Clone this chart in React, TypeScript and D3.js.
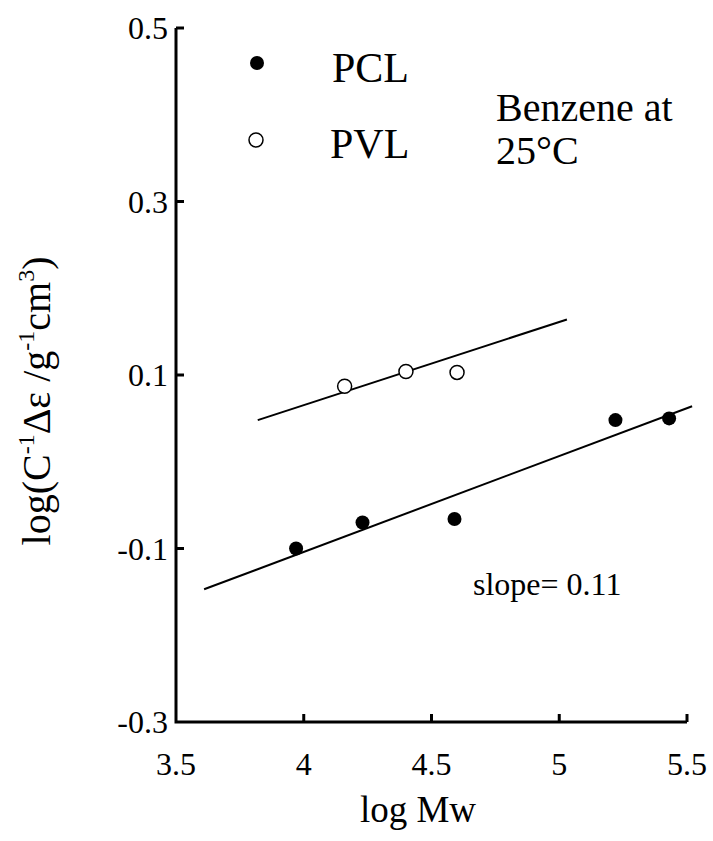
import React from "react";
import * as d3 from "d3";

const xTicks = [3.5, 4, 4.5, 5, 5.5];
const xTickLabels = ["3.5", "4", "4.5", "5", "5.5"];
const yTicks = [0.5, 0.3, 0.1, -0.1, -0.3];
const yTickLabels = ["0.5", "0.3", "0.1", "-0.1", "-0.3"];

const pclX = [3.97, 4.23, 4.59, 5.22, 5.43];
const pclY = [-0.1, -0.07, -0.066, 0.048, 0.05];
const pvlX = [4.16, 4.4, 4.6];
const pvlY = [0.087, 0.104, 0.103];

const pclFitX = [3.61, 5.52];
const pclFitY = [-0.147, 0.064];
const pvlFitX = [3.82, 5.03];
const pvlFitY = [0.048, 0.164];

const seriesNames = ["PCL", "PVL"];

const FONT = "'Liberation Serif', 'Times New Roman', serif";

export default function App() {
  const W = 713;
  const H = 841;
  const x = d3.scaleLinear().domain([3.5, 5.5]).range([176, 687]);
  const y = d3.scaleLinear().domain([-0.3, 0.5]).range([722, 28]);
  const line = d3
    .line<[number, number]>()
    .x((d) => x(d[0]))
    .y((d) => y(d[1]));
  const pclFit = line(pclFitX.map((v, i) => [v, pclFitY[i]]) as [number, number][]) || "";
  const pvlFit = line(pvlFitX.map((v, i) => [v, pvlFitY[i]]) as [number, number][]) || "";

  return (
    <svg
      width={W}
      height={H}
      style={{ position: "absolute", left: 0, top: 0, background: "#fff" }}
      fontFamily={FONT}
    >
      <rect width={W} height={H} fill="#fff" />
      {/* axes */}
      <path
        d={`M${x(3.5)},${y(0.5)} L${x(3.5)},${y(-0.3)} L${x(5.5)},${y(-0.3)}`}
        fill="none"
        stroke="#000"
        strokeWidth={3}
      />
      {xTicks.slice(1).map((t) => (
        <line key={"xt" + t} x1={x(t)} x2={x(t)} y1={y(-0.3)} y2={y(-0.3) - 8} stroke="#000" strokeWidth={3} />
      ))}
      {yTicks.slice(0, 4).map((t) => (
        <line key={"yt" + t} x1={x(3.5)} x2={x(3.5) + 8} y1={y(t)} y2={y(t)} stroke="#000" strokeWidth={3} />
      ))}
      {xTicks.map((t, i) => (
        <text key={"xl" + t} x={x(t)} y={775} textAnchor="middle" fontSize={32}>
          {xTickLabels[i]}
        </text>
      ))}
      {yTicks.map((t, i) => (
        <text key={"yl" + t} x={168} y={y(t) + 11} textAnchor="end" fontSize={32}>
          {yTickLabels[i]}
        </text>
      ))}
      <text x={418} y={822} textAnchor="middle" fontSize={37}>
        log Mw
      </text>
      <text transform="translate(50,401) rotate(-90)" textAnchor="middle" fontSize={40}>
        <tspan>log(C</tspan>
        <tspan fontSize={24} dy={-16}>-1</tspan>
        <tspan dy={16}>Δε /g</tspan>
        <tspan fontSize={24} dy={-16}>-1</tspan>
        <tspan dy={16}>cm</tspan>
        <tspan fontSize={24} dy={-16}>3</tspan>
        <tspan dy={16}>)</tspan>
      </text>

      {/* fit lines */}
      <path d={pclFit} fill="none" stroke="#000" strokeWidth={2} />
      <path d={pvlFit} fill="none" stroke="#000" strokeWidth={2} />

      {/* points */}
      {pclX.map((v, i) => (
        <circle key={"pcl" + i} cx={x(v)} cy={y(pclY[i])} r={7} fill="#000" />
      ))}
      {pvlX.map((v, i) => (
        <circle key={"pvl" + i} cx={x(v)} cy={y(pvlY[i])} r={7} fill="#fff" stroke="#000" strokeWidth={1.5} />
      ))}

      {/* legend */}
      <circle cx={257} cy={63} r={7} fill="#000" />
      <text x={332} y={82} fontSize={42}>{seriesNames[0]}</text>
      <circle cx={256} cy={140} r={7} fill="#fff" stroke="#000" strokeWidth={1.5} />
      <text x={330} y={158} fontSize={42}>{seriesNames[1]}</text>

      <text x={496} y={121} fontSize={40}>Benzene at</text>
      <text x={496} y={164} fontSize={40}>25°C</text>
      <text x={473} y={595} fontSize={32}>slope= 0.11</text>
    </svg>
  );
}
